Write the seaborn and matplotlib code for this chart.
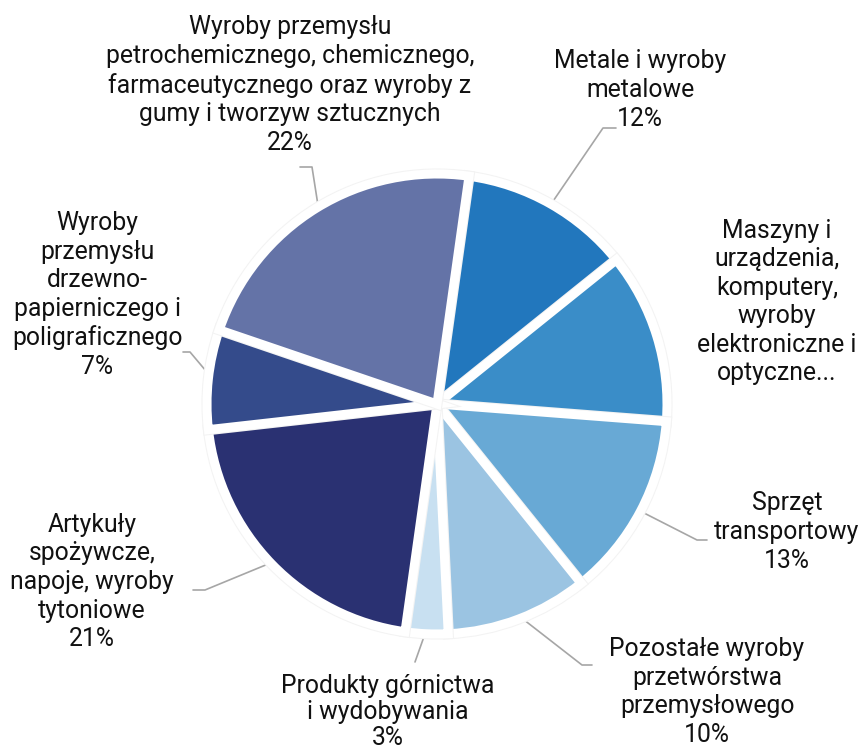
import matplotlib
matplotlib.use("Agg")
import matplotlib.pyplot as plt
import matplotlib.patheffects as pe
import seaborn as sns
import numpy as np

# ---- data ----
categories = [
    "Metale i wyroby metalowe",
    "Maszyny i urządzenia, komputery, wyroby elektroniczne i optyczne",
    "Sprzęt transportowy",
    "Pozostałe wyroby przetwórstwa przemysłowego",
    "Produkty górnictwa i wydobywania",
    "Artykuły spożywcze, napoje, wyroby tytoniowe",
    "Wyroby przemysłu drzewno-papierniczego i poligraficznego",
    "Wyroby przemysłu petrochemicznego, chemicznego, farmaceutycznego oraz wyroby z gumy i tworzyw sztucznych",
]
values = [12, 12, 13, 10, 3, 21, 7, 22]
label_lines = [
    "Metale i wyroby\nmetalowe",
    "Maszyny i\nurządzenia,\nkomputery,\nwyroby\nelektroniczne i\noptyczne...",
    "Sprzęt\ntransportowy",
    "Pozostałe wyroby\nprzetwórstwa\nprzemysłowego",
    "Produkty górnictwa\ni wydobywania",
    "Artykuły\nspożywcze,\nnapoje, wyroby\ntytoniowe",
    "Wyroby\nprzemysłu\ndrzewno-\npapierniczego i\npoligraficznego",
    "Wyroby przemysłu\npetrochemicznego, chemicznego,\nfarmaceutycznego oraz wyroby z\ngumy i tworzyw sztucznych",
]
show_pct = [True, False, True, True, True, True, True, True]
colors = ["#2277bd", "#3a8dc8", "#68a9d5", "#9bc4e2", "#c8e0f1",
          "#2a3172", "#344b8b", "#6473a7"]

# ---- layout (pixel coordinates, y downward) ----
W, H = 867, 752
center_px = (437, 404)
radius_px = 230
label_pos = [(640, 90), (777, 302), (787, 532), (707, 692), (388, 712),
             (92, 582), (97, 295), (290, 85)]
label_spacing = [1.24, 1.24, 1.24, 1.24, 1.08, 1.24, 1.24, 1.24]
# leader line bend / end points (pixel coords); None = no leader
leader_pts = [
    [(603, 128), (616, 128)],
    None,
    [(697, 540), (707, 540)],
    [(582, 665), (592, 665)],
    [(415, 662)],
    [(205, 590), (193, 590)],
    [(190, 352), (183, 352)],
    [(312, 167), (300, 167)],
]

sns.set_theme(style="white")
plt.rcParams["font.family"] = ["Roboto", "DejaVu Sans"]

fig = plt.figure(figsize=(W / 100, H / 100), dpi=100)
ax = fig.add_axes([0, 0, 1, 1])

cx, cy = center_px[0], H - center_px[1]
startangle = 82
wedges, _ = ax.pie(values, colors=colors, startangle=startangle,
                   counterclock=False, center=(cx, cy), radius=radius_px,
                   frame=True,
                   wedgeprops=dict(edgecolor="white", linewidth=6.5))
ax.set_xlim(0, W)
ax.set_ylim(0, H)
ax.set_axis_off()
for w in wedges:
    w.set_path_effects([pe.Stroke(linewidth=8, foreground="#f3f3f3"),
                        pe.Normal()])

for i, w in enumerate(wedges):
    mid = np.deg2rad((w.theta1 + w.theta2) / 2)
    r_edge = radius_px - 5
    ex, ey = cx + r_edge * np.cos(mid), cy + r_edge * np.sin(mid)
    txt = label_lines[i]
    if show_pct[i]:
        txt += f"\n{values[i]}%"
    lx, ly = label_pos[i]
    ax.text(lx, H - ly, txt, ha="center", va="center", fontsize=17.8,
            color="#111111", linespacing=label_spacing[i])
    if leader_pts[i] is not None:
        xs = [ex] + [p[0] for p in leader_pts[i]]
        ys = [ey] + [H - p[1] for p in leader_pts[i]]
        ax.plot(xs, ys, color="#a6a6a6", lw=1.2, zorder=0.5)

fig.savefig("out.png", dpi=100, facecolor="white")
